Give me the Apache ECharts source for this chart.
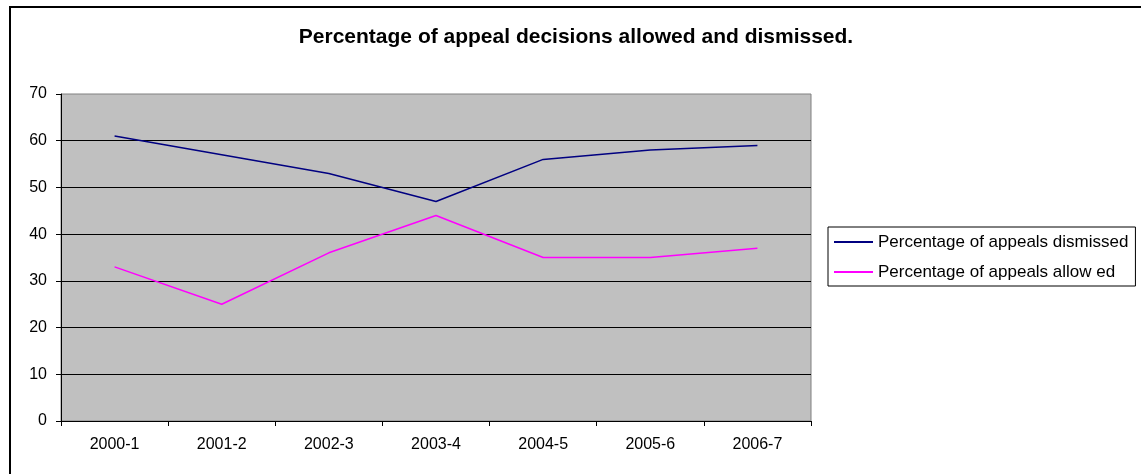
<!DOCTYPE html>
<html>
<head>
<meta charset="utf-8">
<script src="https://cdn.jsdelivr.net/npm/echarts@6/dist/echarts.min.js"></script>
<style>
  html, body { margin: 0; padding: 0; background: #fff; }
  #chart { width: 1141px; height: 474px; }
</style>
</head>
<body>
<div id="chart"></div>
<script>
// Appeal decision outcomes by year
const years = ['2000-1', '2001-2', '2002-3', '2003-4', '2004-5', '2005-6', '2006-7'];
const dismissed = [61, 57, 53, 47, 56, 58, 59];
const allowed = [33, 25, 36, 44, 35, 35, 37];
const yTicks = { min: 0, max: 70, interval: 10 };

const FONT = 'Liberation Sans, Arial, sans-serif';
const chart = echarts.init(document.getElementById('chart'), null, { renderer: 'canvas' });

chart.setOption({
  animation: false,
  backgroundColor: '#ffffff',
  title: {
    text: 'Percentage of appeal decisions allowed and dismissed.',
    left: 571,
    textAlign: 'center',
    top: 22,
    textStyle: { fontFamily: FONT, fontSize: 21, fontWeight: 'bold', color: '#000' }
  },
  graphic: [
    {
      // outer chart frame
      type: 'rect',
      shape: { x: 10, y: 7, width: 1200, height: 520 },
      style: { fill: 'none', stroke: '#000', lineWidth: 2 },
      silent: true,
      z: 100
    }
  ],
  legend: {
    orient: 'vertical',
    left: 828,
    top: 227,
    itemWidth: 39,
    itemHeight: 2,
    itemGap: 12,
    padding: [6, 7, 5, 6],
    borderColor: '#000',
    borderWidth: 1,
    icon: 'rect',
    textStyle: { fontFamily: FONT, fontSize: 17, lineHeight: 18, color: '#000' },
    data: ['Percentage of appeals dismissed', 'Percentage of appeals allow ed']
  },
  grid: {
    left: 61,
    right: 330,
    top: 94,
    bottom: 53,
    show: true,
    backgroundColor: '#c0c0c0',
    borderColor: '#808080',
    borderWidth: 1
  },
  xAxis: {
    type: 'category',
    data: years,
    boundaryGap: true,
    axisLine: { lineStyle: { color: '#000', width: 1 } },
    axisTick: { show: true, alignWithLabel: false, length: 5, lineStyle: { color: '#000' } },
    axisLabel: { fontFamily: FONT, fontSize: 16, color: '#000', margin: 16 },
    splitLine: { show: false }
  },
  yAxis: {
    type: 'value',
    min: yTicks.min,
    max: yTicks.max,
    interval: yTicks.interval,
    axisLine: { show: true, lineStyle: { color: '#000', width: 1 } },
    axisTick: { show: true, length: 5, lineStyle: { color: '#000' } },
    axisLabel: { fontFamily: FONT, fontSize: 16, color: '#000', margin: 14 },
    splitLine: { show: true, showMaxLine: false, lineStyle: { color: '#000', width: 1 } }
  },
  series: [
    {
      name: 'Percentage of appeals dismissed',
      type: 'line',
      data: dismissed,
      symbol: 'none',
      color: '#000080',
      lineStyle: { color: '#000080', width: 1.5 }
    },
    {
      name: 'Percentage of appeals allow ed',
      type: 'line',
      data: allowed,
      symbol: 'none',
      color: '#ff00ff',
      lineStyle: { color: '#ff00ff', width: 1.5 }
    }
  ]
});
</script>
</body>
</html>
